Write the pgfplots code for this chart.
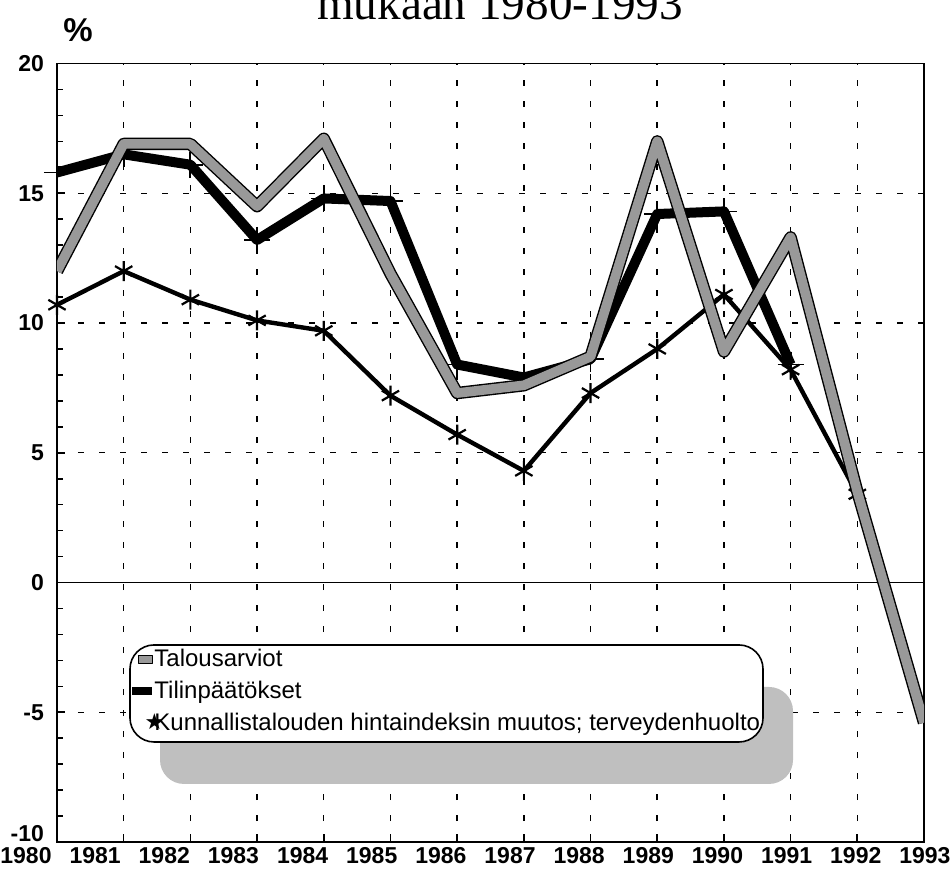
\documentclass[border=0pt]{standalone}
\usepackage{pgfplots}
\pgfplotsset{compat=1.18}
\usepackage{fontspec}
\setmainfont{Liberation Sans}
\newfontfamily\titlefont{Liberation Serif}
\newfontfamily\symfont{DejaVu Sans}
\usetikzlibrary{shadows}
\begin{document}
\begin{tikzpicture}
\useasboundingbox (0pt,0pt) rectangle (475.5pt,439pt);
\clip (0pt,0pt) rectangle (475.5pt,439pt);
\node[font=\titlefont\fontsize{23.6}{28}\selectfont, anchor=base, inner sep=0pt] at (250pt,429pt) {mukaan 1980-1993};
\node[font=\bfseries\fontsize{16.5}{18}\selectfont, inner sep=0pt] at (39pt,424pt) {\%};
% hidden axis carrying the year labels
\begin{axis}[
  at={(13pt,18pt)}, anchor=south west,
  scale only axis, width=449.5pt, height=389.25pt,
  xmin=1980, xmax=1993, ymin=0, ymax=1,
  hide y axis, axis x line*=bottom,
  x axis line style={draw=none}, xtick style={draw=none},
  xtick={1980,...,1993},
  xticklabels={1980,1981,1982,1983,1984,1985,1986,1987,1988,1989,1990,1991,1992,1993},
  xticklabel style={font=\bfseries\fontsize{11.5}{13}\selectfont, inner ysep=0.5pt, yshift=-2pt},
]
\end{axis}
\begin{axis}[
  at={(28.5pt,18pt)}, anchor=south west,
  scale only axis, width=433.5pt, height=389.25pt,
  xmin=1980, xmax=1993, ymin=-10, ymax=20,
  xtick={1980,...,1993}, xticklabels={},
  ytick={-10,-5,0,5,10,15,20},
  yticklabels={\raisebox{0.5pt}[0pt][0pt]{-10},-5,0,5,10,15,20},
  minor y tick num=4,
  tick align=inside, tick pos=left,
  major tick length=4pt, minor tick length=3pt,
  tick style={black, line width=0.8pt},
  axis line style={black, line width=0.9pt},
  grid=major,
  major grid style={black, line width=0.7pt, dash pattern=on 3pt off 7.5pt},
  extra y ticks={0}, extra y tick labels={},
  extra y tick style={grid=major, major grid style={solid, black, line width=0.7pt}, major tick length=0pt},
  yticklabel style={font=\bfseries\fontsize{11.5}{13}\selectfont, inner ysep=1pt, xshift=-3pt},
  clip mode=individual,
  reverse legend,
  legend style={at={(rel axis cs:0.0866,0.2511)}, anchor=north west,
    draw=none, fill=none,
    font=\fontsize{12}{14}\selectfont, row sep=3.75pt, column sep=-6pt,
    inner xsep=0pt, inner ysep=0pt,
    nodes={inner xsep=1pt, inner ysep=1pt},
    cells={anchor=west}},
]
\draw[black, line width=0.8pt, rounded corners=12pt, fill=white,
  drop shadow={shadow xshift=15pt, shadow yshift=-21pt, fill=gray!50, opacity=1}]
  (rel axis cs:0.0842,0.2531) rectangle (rel axis cs:0.8143,0.1285);
\addplot[black, line width=2.2pt, line join=round, mark=asterisk, mark size=5pt,
  mark options={line width=1.1pt, solid},
  legend image code/.code={\node[inner sep=0pt,font=\symfont\fontsize{11}{11}\selectfont] at (5pt,0pt) {★};}]
  coordinates {(1980,10.7) (1981,12.0) (1982,10.9) (1983,10.1) (1984,9.7) (1985,7.2) (1986,5.7)
   (1987,4.3) (1988,7.3) (1989,9.0) (1990,11.1) (1991,8.2) (1992,3.4)};
\addlegendentry{Kunnallistalouden hintaindeksin muutos; terveydenhuolto}
\addplot[black, line width=5pt, line join=round, mark=+, mark size=6.5pt,
  mark options={line width=0.9pt},
  legend image code/.code={\path[fill=black, draw=none] (0pt,-2.2pt) rectangle (10pt,2.2pt);}]
  coordinates {(1980,15.8) (1981,16.5) (1982,16.1) (1983,13.2) (1984,14.8) (1985,14.7) (1986,8.4)
   (1987,7.9) (1988,8.6) (1989,14.2) (1990,14.3) (1991,8.4)};
\addlegendentry{Tilinpäätökset}
\addplot[black, line width=6.2pt, line join=round, forget plot]
  coordinates {(1980,12.0) (1981,16.9) (1982,16.9) (1983,14.5) (1984,17.1) (1985,11.9) (1986,7.3)
   (1987,7.6) (1988,8.7) (1989,17.0) (1990,8.9) (1991,13.3) (1992,3.5) (1993,-5.4)};
\addplot[gray!80, line width=4.8pt, line join=round,
  legend image code/.code={\path[draw=black, line width=0.4pt, fill=gray!80] (3pt,-2pt) rectangle (10pt,2pt);}]
  coordinates {(1980,12.0) (1981,16.9) (1982,16.9) (1983,14.5) (1984,17.1) (1985,11.9) (1986,7.3)
   (1987,7.6) (1988,8.7) (1989,17.0) (1990,8.9) (1991,13.3) (1992,3.5) (1993,-5.4)};
\addlegendentry{Talousarviot}
\end{axis}
\end{tikzpicture}
\end{document}
